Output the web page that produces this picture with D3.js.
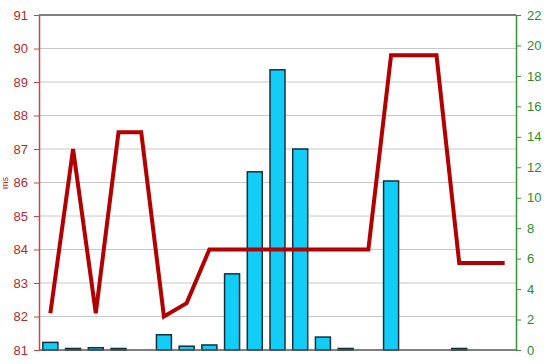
<!DOCTYPE html>
<html>
<head>
<meta charset="utf-8">
<script src="https://cdn.jsdelivr.net/npm/d3@7"></script>
<style>
  body { margin: 0; background: #fff; }
  svg { display: block; font-family: "Liberation Sans", Arial, sans-serif; }
</style>
</head>
<body>
<div id="chart"></div>
<script>
// categories are unnamed slots, 21 of them
const categories = d3.range(21).map(i => "c" + i);
const lineValues = [82.1, 87.0, 82.1, 87.5, 87.5, 82.0, 82.4, 84.0, 84.0, 84.0, 84.0, 84.0, 84.0, 84.0, 84.0, 89.8, 89.8, 89.8, 83.6, 83.6, 83.6];
const barValues = [0.5, 0.1, 0.15, 0.1, 0, 1.0, 0.25, 0.33, 5.0, 11.7, 18.4, 13.2, 0.85, 0.1, 0, 11.1, 0, 0, 0.1, 0, 0];
const leftTicks = [81, 82, 83, 84, 85, 86, 87, 88, 89, 90, 91];
const rightTicks = [0, 2, 4, 6, 8, 10, 12, 14, 16, 18, 20, 22];

const width = 550, height = 364;
const margin = { top: 15, right: 34, bottom: 14, left: 39 };

const svg = d3.select("#chart")
    .append("svg")
    .attr("width", width)
    .attr("height", height);

let x = d3.scaleBand()
    .domain(categories)
    .range([margin.left, width - margin.right])
    .paddingInner(0.34)
    .paddingOuter(0.17);

let xc = d3.scalePoint()
    .domain(categories)
    .range([margin.left, width - margin.right])
    .padding(0.5);

let yL = d3.scaleLinear()
    .domain([81, 91])
    .range([height - margin.bottom, margin.top]);

let yR = d3.scaleLinear()
    .domain([0, 22])
    .range([height - margin.bottom, margin.top]);

// grid lines
svg.append("g")
    .selectAll("line")
    .data(leftTicks.slice(1, -1))
    .enter()
    .append("line")
    .attr("x1", margin.left)
    .attr("x2", width - margin.right)
    .attr("y1", d => yL(d))
    .attr("y2", d => yL(d))
    .attr("stroke", "#c8c8c8")
    .attr("stroke-width", 1);

// top border
svg.append("line")
    .attr("x1", margin.left).attr("x2", width - margin.right)
    .attr("y1", yL(91)).attr("y2", yL(91))
    .attr("stroke", "#555").attr("stroke-width", 1.5);

// bars (zero values are not drawn)
svg.append("g")
    .selectAll(".bar")
    .data(barValues.map((v, i) => ({ c: categories[i], v: v })).filter(d => d.v > 0))
    .enter()
    .append("rect")
    .attr("class", "bar")
    .attr("x", d => x(d.c))
    .attr("width", x.bandwidth())
    .attr("y", d => yR(d.v))
    .attr("height", d => yR(0) - yR(d.v))
    .attr("fill", "#12cdf5")
    .attr("stroke", "#13303f")
    .attr("stroke-width", 1.5);

// line
const line = d3.line()
    .x((d, i) => xc(categories[i]))
    .y(d => yL(d));

svg.append("path")
    .datum(lineValues)
    .attr("d", line)
    .attr("fill", "none")
    .attr("stroke", "#b30000")
    .attr("stroke-width", 4)
    .attr("stroke-linejoin", "miter");

// bottom axis line
svg.append("line")
    .attr("x1", margin.left).attr("x2", width - margin.right)
    .attr("y1", yL(81)).attr("y2", yL(81))
    .attr("stroke", "#555").attr("stroke-width", 1.5);

// left axis
const leftAxis = svg.append("g")
    .attr("transform", "translate(" + margin.left + ",0)")
    .call(d3.axisLeft(yL).tickValues(leftTicks).tickSize(5).tickPadding(6).tickSizeOuter(0));
leftAxis.select(".domain").attr("stroke", "#cc4444").attr("stroke-width", 1.5);
leftAxis.selectAll(".tick line").attr("stroke", "#cc4444");
leftAxis.selectAll("text")
    .attr("fill", "#b52a2a")
    .style("font-size", "13px");

// right axis
const rightAxis = svg.append("g")
    .attr("transform", "translate(" + (width - margin.right) + ",0)")
    .call(d3.axisRight(yR).tickValues(rightTicks).tickSize(5).tickPadding(6).tickSizeOuter(0));
rightAxis.select(".domain").attr("stroke", "#3a8f3a").attr("stroke-width", 1.5);
rightAxis.selectAll(".tick line").attr("stroke", "#3a8f3a");
rightAxis.selectAll("text")
    .attr("fill", "#2e8b2e")
    .style("font-size", "13px");

// left axis title, squeezed against the left edge
svg.append("text")
    .attr("transform", "translate(8,183) rotate(-90)")
    .attr("text-anchor", "middle")
    .attr("fill", "#b52a2a")
    .style("font-size", "9px")
    .text("ms");
</script>
</body>
</html>
